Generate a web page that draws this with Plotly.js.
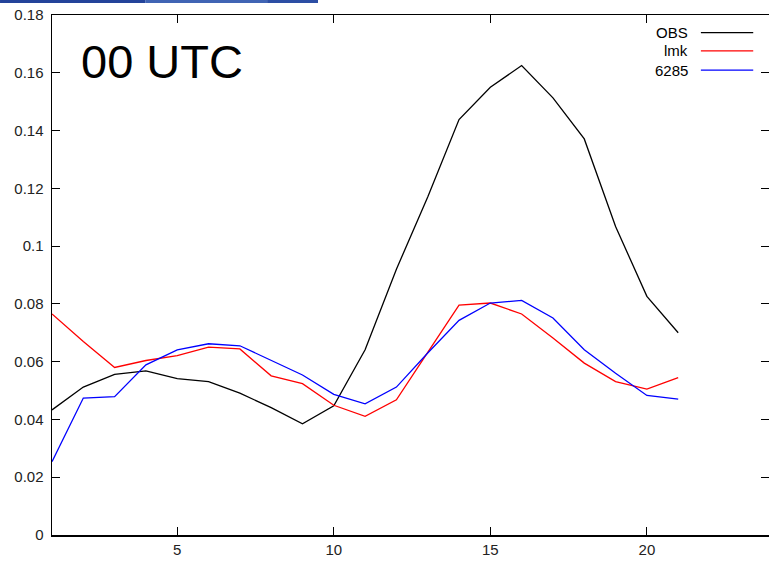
<!DOCTYPE html>
<html>
<head>
<meta charset="utf-8">
<script src="https://cdn.plot.ly/plotly-3.0.1.min.js"></script>
<style>html,body{margin:0;padding:0;background:#fff;}#chart{width:769px;height:561px;}</style>
</head>
<body>
<div id="chart"></div>
<script>
const hours = [1,2,3,4,5,6,7,8,9,10,11,12,13,14,15,16,17,18,19,20,21];
const obs  = [0.0433,0.0512,0.0556,0.0568,0.0541,0.0531,0.0491,0.0441,0.0385,0.0447,0.0641,0.0920,0.1170,0.1438,0.1550,0.1625,0.1513,0.1371,0.1068,0.0826,0.0700];
const lmk  = [0.0765,0.0670,0.0580,0.0604,0.0621,0.0650,0.0644,0.0551,0.0524,0.0449,0.0411,0.0468,0.0632,0.0796,0.0803,0.0765,0.0682,0.0595,0.0531,0.0505,0.0545];
const s6285= [0.0254,0.0474,0.0479,0.0589,0.0641,0.0662,0.0655,0.0604,0.0554,0.0487,0.0454,0.0512,0.0630,0.0743,0.0803,0.0812,0.0751,0.0641,0.0560,0.0483,0.0470];
const seriesNames = ["OBS","lmk","6285"];
const seriesColors = ["#000000","#ff0000","#0000ff"];
const yTickVals = [0,0.02,0.04,0.06,0.08,0.1,0.12,0.14,0.16,0.18];
const yTickText = ["0","0.02","0.04","0.06","0.08","0.1","0.12","0.14","0.16","0.18"];
const xTickVals = [5,10,15,20];
const panelTitle = "00 UTC";

const font = "Liberation Sans, Arial, Helvetica, sans-serif";
const data = [obs,lmk,s6285].map((ys,i)=>({
  x: hours, y: ys, type:'scatter', mode:'lines', name: seriesNames[i],
  line:{color: seriesColors[i], width:1.3}, showlegend:false
}));

const legendRows = [0.966,0.931,0.894];
const annotations = [{
  xref:'paper', yref:'paper', x:0.037, y:0.965, xanchor:'left', yanchor:'top',
  text: panelTitle, showarrow:false, font:{family:font, size:47, color:'#000'}
}];
const shapes = [
  {type:'rect', xref:'paper', yref:'paper', x0:-0.0725, x1:0.13, y0:1.023, y1:1.03, fillcolor:'#23439a', line:{width:0}},
  {type:'rect', xref:'paper', yref:'paper', x0:0.13, x1:0.30, y0:1.023, y1:1.03, fillcolor:'#4064b4', line:{width:0}},
  {type:'rect', xref:'paper', yref:'paper', x0:0.30, x1:0.371, y0:1.023, y1:1.03, fillcolor:'#2c4ea4', line:{width:0}}
];
seriesNames.forEach((n,i)=>{
  annotations.push({xref:'paper', yref:'paper', x:0.89, y:legendRows[i], xanchor:'right', yanchor:'middle',
    text:n, showarrow:false, font:{family:font, size:15, color:'#000'}});
  shapes.push({type:'line', xref:'paper', yref:'paper', x0:0.905, x1:0.978, y0:legendRows[i], y1:legendRows[i],
    line:{color:seriesColors[i], width:1.3}});
});

const layout = {
  width:769, height:561,
  margin:{l:52, r:0, t:15, b:26},
  paper_bgcolor:'#fff', plot_bgcolor:'#fff',
  font:{family:font, size:15, color:'#222'},
  xaxis:{range:[1,23.9], tickvals:xTickVals, ticks:'inside', ticklen:8, tickwidth:1.2, tickcolor:'#000',
    showline:true, linecolor:'#000', linewidth:1.5, mirror:'ticks', showgrid:false, zeroline:false,
    tickfont:{family:font, size:15, color:'#222'}},
  yaxis:{range:[0,0.18], tickvals:yTickVals, ticktext:yTickText, ticks:'inside', ticklen:8, tickwidth:1.2, tickcolor:'#000',
    showline:true, linecolor:'#000', linewidth:1.5, mirror:'ticks', showgrid:false, zeroline:false,
    tickfont:{family:font, size:15, color:'#222'}, ticklabelstandoff:4},
  annotations, shapes, showlegend:false
};
Plotly.newPlot('chart', data, layout, {displayModeBar:false, staticPlot:true});
</script>
</body>
</html>
